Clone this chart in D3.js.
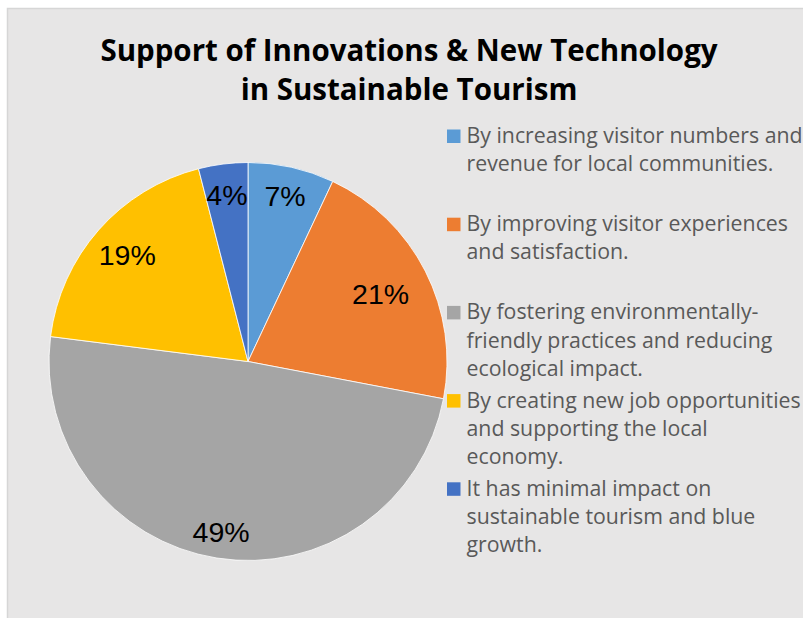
<!DOCTYPE html>
<html>
<head>
<meta charset="utf-8">
<script src="https://cdn.jsdelivr.net/npm/d3@7"></script>
<style>
  html, body { margin: 0; padding: 0; background: #ffffff; }
  svg { display: block; }
</style>
</head>
<body>
<svg id="chart" width="803" height="618"></svg>
<script>
// Survey answers: how innovations & new technology support sustainable tourism
const categories = [
  "By increasing visitor numbers and revenue for local communities.",
  "By improving visitor experiences and satisfaction.",
  "By fostering environmentally-friendly practices and reducing ecological impact.",
  "By creating new job opportunities and supporting the local economy.",
  "It has minimal impact on sustainable tourism and blue growth."
];
const legendLines = [
  ["By increasing visitor numbers and", "revenue for local communities."],
  ["By improving visitor experiences", "and satisfaction."],
  ["By fostering environmentally-", "friendly practices and reducing", "ecological impact."],
  ["By creating new job opportunities", "and supporting the local", "economy."],
  ["It has minimal impact on", "sustainable tourism and blue", "growth."]
];
const shares = [7, 21, 49, 19, 4];
const colors = ["#5b9bd5", "#ed7d31", "#a5a5a5", "#ffc000", "#4472c4"];
const titleLines = ["Support of Innovations & New Technology", "in Sustainable Tourism"];

const svg = d3.select("#chart");

// chart area panel
svg.append("rect")
  .attr("x", 7.5).attr("y", 8.5)
  .attr("width", 820).attr("height", 640)
  .attr("fill", "#e7e6e6")
  .attr("stroke", "#d6d6d6")
  .attr("stroke-width", 1.5);

// title
svg.append("g")
  .selectAll("text")
  .data(titleLines)
  .join("text")
  .attr("x", 409)
  .attr("y", (d, i) => 61 + i * 39)
  .attr("text-anchor", "middle")
  .attr("font-family", "'Open Sans', sans-serif")
  .attr("font-weight", 700)
  .attr("font-size", 29.5)
  .attr("fill", "#000000")
  .text(d => d);

// pie
const cx = 248, cy = 361.5, radius = 199;
const color = d3.scaleOrdinal().domain(categories).range(colors);
const pie = d3.pie().value(d => d.value).sort(null);
const arcs = pie(categories.map((c, i) => ({ name: c, value: shares[i] })));
const arc = d3.arc().innerRadius(0).outerRadius(radius);

const g = svg.append("g").attr("transform", `translate(${cx},${cy})`);
g.selectAll("path")
  .data(arcs)
  .join("path")
  .attr("d", arc)
  .attr("fill", d => color(d.data.name))
  .attr("stroke", "#ffffff")
  .attr("stroke-width", 0.8);

// data labels, placed inside each slice near the rim
const labelRadius = [0.854, 0.748, 0.865, 0.809, 0.845];
g.selectAll("text.pct")
  .data(arcs)
  .join("text")
  .attr("class", "pct")
  .attr("transform", (d, i) => {
    const a = (d.startAngle + d.endAngle) / 2;
    const r = radius * labelRadius[i];
    return `translate(${r * Math.sin(a)},${-r * Math.cos(a)})`;
  })
  .attr("text-anchor", "middle")
  .attr("dy", "0.36em")
  .attr("font-family", "'Liberation Sans', Arial, sans-serif")
  .attr("font-size", 28.5)
  .attr("fill", "#000000")
  .text(d => d.data.value + "%");

// legend
const legend = svg.append("g").attr("transform", "translate(447,143)");
const item = legend.selectAll("g")
  .data(categories)
  .join("g")
  .attr("transform", (d, i) => `translate(0,${i * 88.2})`);
item.append("rect")
  .attr("x", 0).attr("y", -13.5)
  .attr("width", 13.5).attr("height", 13.5)
  .attr("fill", d => color(d));
item.append("text")
  .attr("font-family", "'Open Sans', sans-serif")
  .attr("font-size", 21.3)
  .attr("fill", "#595959")
  .selectAll("tspan")
  .data((d, i) => legendLines[i])
  .join("tspan")
  .attr("x", 19.5)
  .attr("y", (d, j) => j * 28.3)
  .text(d => d);
</script>
</body>
</html>
